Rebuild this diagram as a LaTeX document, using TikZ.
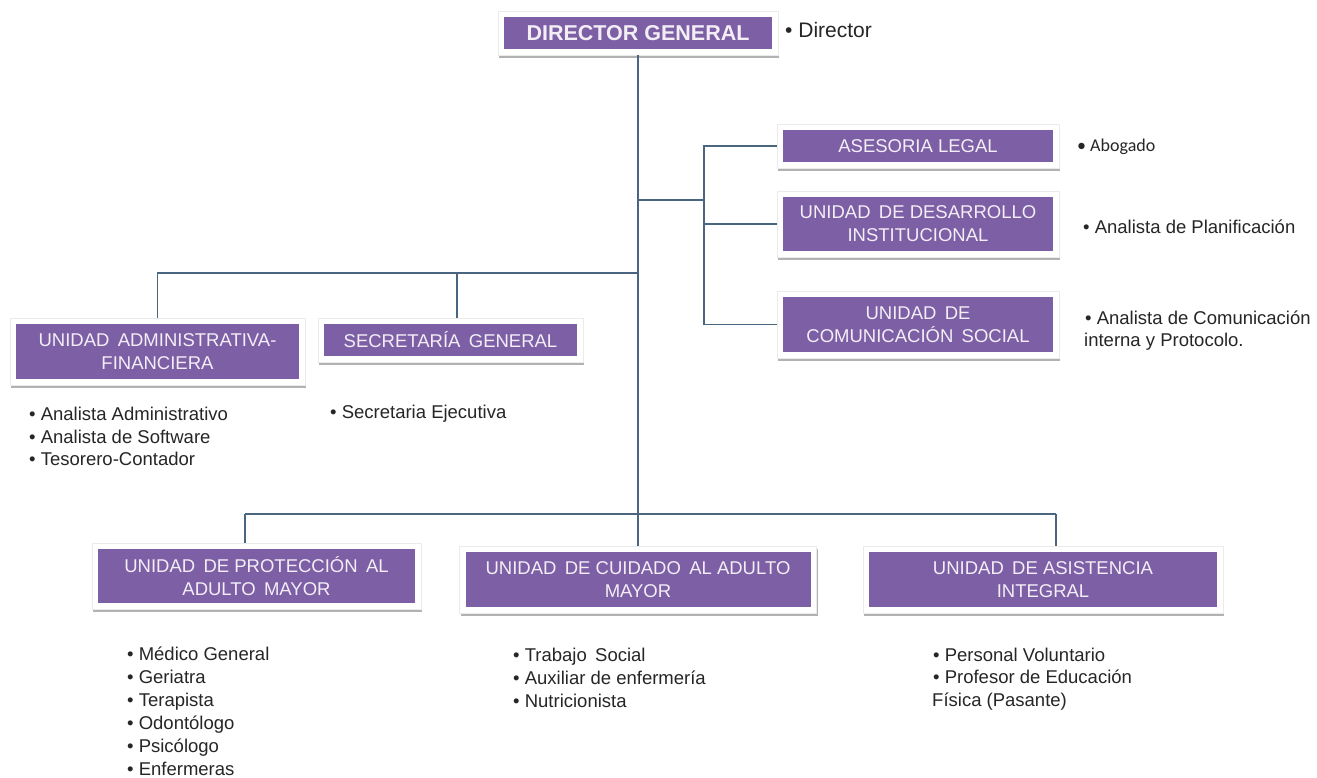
\documentclass[tikz,border=0pt]{standalone}
\usepackage{fontspec}
\setmainfont{Liberation Sans}
\newfontfamily\calib{Carlito}
\usetikzlibrary{shadows}
\definecolor{boxpurple}{HTML}{7D5FA5}
\definecolor{linecol}{HTML}{4A6580}
\definecolor{boxtext}{HTML}{F3EEF6}
\newcommand\dsp{\hspace{0.45em}}
\newcommand\orgbox[6]{%
  \node[frame, minimum width=#4+12, minimum height=#5+12] (#1) at (#2,#3) {};
  \node[pbox, minimum width=#4, minimum height=#5] (#1-in) at (#2,#3) {#6};
}
\begin{document}
\begin{tikzpicture}[x=1pt,y=-1pt,
  frame/.style={fill=white, draw=black!8, line width=0.6pt, inner sep=0pt,
    drop shadow={shadow xshift=1pt, shadow yshift=-3pt, opacity=0.3, fill=black}},
  pbox/.style={fill=boxpurple, inner sep=0pt, align=center, text=boxtext,
    font=\fontsize{18.5}{23}\selectfont},
  conn/.style={draw=linecol, line width=1.3pt},
  item/.style={anchor=west, inner sep=0pt, text height=13pt, text depth=0pt,
    font=\fontsize{18.5}{22}\selectfont, text=black!85},
]
\fill[white] (0,0) rectangle (1317,778);
\useasboundingbox (0,0) rectangle (1317,778);

% connectors first (behind boxes)
\coordinate (tb) at (638,273);
\coordinate (secj) at (457,273);
\coordinate (rb) at (638,200);
\coordinate (rv) at (704,200);
\coordinate (bl) at (245,514);
\coordinate (br) at (1056,514);

% boxes
\orgbox{dg}{638}{33}{268}{32}{\bfseries\fontsize{21.5}{25}\selectfont DIRECTOR GENERAL}
\orgbox{ase}{918}{146}{270}{32}{ASESORIA LEGAL}
\orgbox{des}{918}{224}{270}{54}{UNIDAD\dsp DE DESARROLLO\\INSTITUCIONAL}
\orgbox{com}{918}{324.5}{270}{55}{UNIDAD\dsp DE\\COMUNICACIÓN\dsp SOCIAL}
\orgbox{adm}{157.5}{351.5}{283}{55}{UNIDAD\dsp ADMINISTRATIVA-\\FINANCIERA}
\orgbox{sec}{450.5}{340}{253}{32}{SECRETARÍA\dsp GENERAL}
\orgbox{prot}{256.5}{576}{317}{54}{UNIDAD\dsp DE PROTECCIÓN\dsp AL\\ADULTO\dsp MAYOR}
\orgbox{cuid}{638}{579.5}{345}{55}{UNIDAD\dsp DE CUIDADO\dsp AL ADULTO\\MAYOR}
\orgbox{asis}{1043}{579.5}{348}{55}{UNIDAD\dsp DE ASISTENCIA\\INTEGRAL}

% connectors
\draw[conn] (dg.south) -- (cuid.north);
\draw[conn] (adm.north) |- (tb);
\draw[conn] (secj) -- (secj |- sec.north);
\draw[conn] (rb) -- (rv);
\draw[conn] (ase.west) -| (rv);
\draw[conn] (com.west) -| (rv);
\draw[conn] (des.west) -- (des.west -| rv);
\draw[conn] (bl) -- (br);
\draw[conn] (bl) -- (bl |- prot.north);
\draw[conn] (br) -- (br |- asis.north);

% staff lists
\node[item, font=\fontsize{21}{25}\selectfont, text height=15pt] (dir1) at (785,30) {\textbullet\ Director};
\node[item, font=\calib\fontsize{18}{22}\selectfont] (ase1) at (1077,145) {\textbullet\ Abogado};
\node[item] (des1) at (1083,227) {\textbullet\ Analista de Planificación};
\node[item] (com1) at (1085,318) {\textbullet\ Analista de Comunicación};
\node[item] (com2) at (1084,340) {interna y Protocolo.};

\node[item] (adm1) at (29,414) {\textbullet\ Analista Administrativo};
\node[item] (adm2) at (29,436.5) {\textbullet\ Analista de Software};
\node[item] (adm3) at (29,459) {\textbullet\ Tesorero-Contador};

\node[item] (sec1) at (330,412) {\textbullet\ Secretaria Ejecutiva};

\node[item] (prot1) at (127,654) {\textbullet\ Médico General};
\node[item] (prot2) at (127,677) {\textbullet\ Geriatra};
\node[item] (prot3) at (127,700) {\textbullet\ Terapista};
\node[item] (prot4) at (127,723) {\textbullet\ Odontólogo};
\node[item] (prot5) at (127,746) {\textbullet\ Psicólogo};
\node[item] (prot6) at (127,769) {\textbullet\ Enfermeras};

\node[item] (cuid1) at (513,655) {\textbullet\ Trabajo\dsp Social};
\node[item] (cuid2) at (513,678) {\textbullet\ Auxiliar de enfermería};
\node[item] (cuid3) at (513,701) {\textbullet\ Nutricionista};

\node[item] (asis1) at (933,655) {\textbullet\ Personal Voluntario};
\node[item] (asis2) at (933,677) {\textbullet\ Profesor de Educación};
\node[item] (asis3) at (932,700) {Física (Pasante)};
\end{tikzpicture}
\end{document}
